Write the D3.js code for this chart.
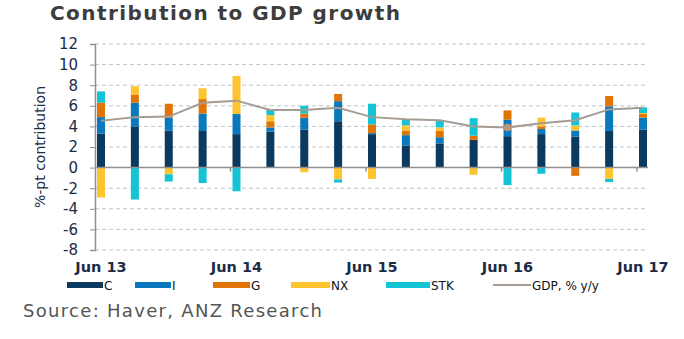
<!DOCTYPE html>
<html>
<head>
<meta charset="utf-8">
<script src="https://cdn.jsdelivr.net/npm/d3@7"></script>
<style>
  html, body { margin: 0; padding: 0; background: #fff; }
  svg { display: block; font-family: "DejaVu Sans", Verdana, sans-serif; }
</style>
</head>
<body>
<svg id="chart" width="684" height="339"></svg>
<script>
"use strict";

// quarterly contributions, %-pt
var quarters = ["Jun 13", "Sep 13", "Dec 13", "Mar 14", "Jun 14", "Sep 14", "Dec 14", "Mar 15",
                "Jun 15", "Sep 15", "Dec 15", "Mar 16", "Jun 16", "Sep 16", "Dec 16", "Mar 17", "Jun 17"];
var C   = [3.3, 4.0, 3.6, 3.55, 3.25, 3.5, 3.7, 4.5, 3.25, 2.15, 2.35, 2.7, 3.05, 3.25, 3.0, 3.55, 3.7];
var I   = [1.6, 2.3, 1.25, 1.7, 1.95, 0.4, 1.15, 1.95, 0.1, 1.0, 0.6, 0, 1.6, 0.5, 0.6, 2.4, 1.15];
var G   = [1.4, 0.8, 1.35, 1.4, 0, 0.6, 0.4, 0.7, 0.85, 0.45, 0.65, 0.4, 0.9, 0.25, -0.8, 1.0, 0.35];
var NX  = [-2.9, 0.8, -0.65, 1.05, 3.7, 0.6, -0.45, -1.15, -1.1, 0.5, 0.3, -0.7, 0, 0.85, 0.5, -1.1, 0.1];
var STK = [1.1, -3.1, -0.7, -1.5, -2.3, 0.5, 0.75, -0.3, 2.0, 0.6, 0.7, 1.7, -1.7, -0.6, 1.25, -0.3, 0.55];
var GDP = [4.55, 4.9, 4.95, 6.3, 6.5, 5.6, 5.6, 5.8, 4.9, 4.7, 4.6, 4.0, 3.9, 4.3, 4.6, 5.65, 5.8];

var yTicks = [12, 10, 8, 6, 4, 2, 0, -2, -4, -6, -8];
var xLabels = ["Jun 13", "Jun 14", "Jun 15", "Jun 16", "Jun 17"];

var series = [
    {key: "C",   name: "C",   values: C,   color: "#0b3a5e"},
    {key: "I",   name: "I",   values: I,   color: "#0a78bd"},
    {key: "G",   name: "G",   values: G,   color: "#e07505"},
    {key: "NX",  name: "NX",  values: NX,  color: "#fdc430"},
    {key: "STK", name: "STK", values: STK, color: "#15c3d6"}
];
var lineColor = "#a59c94";
var textColor = "#1c2b47";

var svg = d3.select("#chart");

var axisLeft = 95, axisRight = 648;
var x = d3.scalePoint().domain(quarters).range([101, 643]);
var y = d3.scaleLinear().domain([-8, 12]).range([250, 44]);
var barW = 8;

// title
svg.append("text")
    .attr("x", 50).attr("y", 20)
    .attr("fill", "#3d3d3d")
    .style("font-size", "20px").style("font-weight", "bold")
    .attr("textLength", 350).attr("lengthAdjust", "spacing")
    .text("Contribution to GDP growth");

// gridlines
svg.append("g").selectAll("line")
    .data(yTicks.filter(function(d){ return d !== 0; }))
    .enter().append("line")
    .attr("x1", axisLeft).attr("x2", axisRight)
    .attr("y1", function(d){ return y(d); }).attr("y2", function(d){ return y(d); })
    .attr("stroke", "#b9c5cd").attr("stroke-width", 1)
    .attr("stroke-dasharray", "4,3");

// y axis (plain hyphen for negatives)
var yAxis = svg.append("g")
    .attr("transform", "translate(" + axisLeft + ",0)")
    .call(d3.axisLeft(y).tickValues(yTicks).tickSize(5).tickPadding(12)
        .tickFormat(function(d){ return String(d); }));
yAxis.select(".domain").attr("stroke", "#8f8f8f").attr("stroke-width", 1.5);
yAxis.selectAll(".tick line").attr("stroke", "#8f8f8f");
yAxis.selectAll(".tick text")
    .attr("fill", textColor)
    .style("font-size", "15px")
    .style("font-family", "'DejaVu Sans', Verdana, sans-serif");

svg.append("text")
    .attr("transform", "translate(45," + y(2) + ") rotate(-90)")
    .attr("text-anchor", "middle")
    .attr("fill", textColor)
    .style("font-size", "14px")
    .text("%-pt contribution");

// stacked bars, positives up and negatives down from zero
var rows = quarters.map(function(q, i) {
    var r = {q: q};
    series.forEach(function(s){ r[s.key] = s.values[i]; });
    return r;
});
var stacked = d3.stack()
    .keys(series.map(function(s){ return s.key; }))
    .offset(d3.stackOffsetDiverging)(rows);

svg.append("g").selectAll("g")
    .data(stacked)
    .enter().append("g")
    .attr("fill", function(d, i){ return series[i].color; })
    .selectAll("rect")
    .data(function(d){ return d; })
    .enter().append("rect")
    .attr("x", function(d){ return x(d.data.q) - barW / 2; })
    .attr("width", barW)
    .attr("y", function(d){ return y(Math.max(d[0], d[1])); })
    .attr("height", function(d){ return Math.abs(y(d[0]) - y(d[1])); });

// zero line and small category ticks
svg.append("line")
    .attr("x1", axisLeft).attr("x2", axisRight)
    .attr("y1", y(0)).attr("y2", y(0))
    .attr("stroke", "#8f8f8f").attr("stroke-width", 1.5);

svg.append("g").selectAll("line")
    .data(["Jun 14", "Jun 15", "Jun 16", "Jun 17"])
    .enter().append("line")
    .attr("x1", function(d){ return x(d) - 6; }).attr("x2", function(d){ return x(d) - 6; })
    .attr("y1", y(0)).attr("y2", y(0) + 4)
    .attr("stroke", "#8f8f8f").attr("stroke-width", 1.5);

// GDP line
var line = d3.line()
    .x(function(d, i){ return x(quarters[i]); })
    .y(function(d){ return y(d); });
svg.append("path")
    .datum(GDP)
    .attr("d", line)
    .attr("fill", "none")
    .attr("stroke", lineColor)
    .attr("stroke-width", 2);

svg.append("circle")
    .attr("cx", x("Jun 16")).attr("cy", y(GDP[12]))
    .attr("r", 3.5)
    .attr("fill", lineColor).attr("stroke", "#d98a4a").attr("stroke-width", 1);

// x labels
svg.append("g").selectAll("text")
    .data(xLabels)
    .enter().append("text")
    .attr("x", function(d){ return x(d); })
    .attr("y", 272)
    .attr("text-anchor", "middle")
    .attr("fill", textColor)
    .style("font-size", "14.5px").style("font-weight", "bold")
    .text(function(d){ return d; });

// legend
var legendItems = [
    {name: "C",   color: series[0].color, x: 67,  w: 36},
    {name: "I",   color: series[1].color, x: 135, w: 36},
    {name: "G",   color: series[2].color, x: 213, w: 37},
    {name: "NX",  color: series[3].color, x: 291, w: 39},
    {name: "STK", color: series[4].color, x: 386, w: 44}
];
var legend = svg.append("g");
legend.selectAll("rect")
    .data(legendItems)
    .enter().append("rect")
    .attr("x", function(d){ return d.x; })
    .attr("y", 282)
    .attr("width", function(d){ return d.w; })
    .attr("height", 6)
    .attr("fill", function(d){ return d.color; });
legend.selectAll("text")
    .data(legendItems.concat([{name: "GDP, % y/y", x: 493, w: 38}]))
    .enter().append("text")
    .attr("x", function(d){ return d.x + d.w + 1; })
    .attr("y", 290)
    .attr("fill", "#111")
    .style("font-size", "12px")
    .text(function(d){ return d.name; });
legend.append("line")
    .attr("x1", 493).attr("x2", 531)
    .attr("y1", 285).attr("y2", 285)
    .attr("stroke", lineColor).attr("stroke-width", 2);

// source
svg.append("text")
    .attr("x", 23).attr("y", 317)
    .attr("fill", "#555")
    .style("font-size", "18px")
    .attr("textLength", 299).attr("lengthAdjust", "spacing")
    .text("Source: Haver, ANZ Research");
</script>
</body>
</html>
